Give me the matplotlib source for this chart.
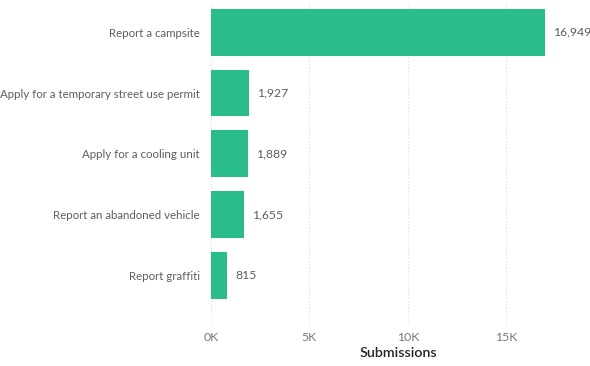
import matplotlib.pyplot as plt

# submissions per request type
categories = ['Report a campsite', 'Apply for a temporary street use permit',
              'Apply for a cooling unit', 'Report an abandoned vehicle', 'Report graffiti']
submissions = [16949, 1927, 1889, 1655, 815]
tick_values = [0, 5000, 10000, 15000]
tick_labels = ['0K', '5K', '10K', '15K']

plt.rcParams['font.family'] = ['Lato', 'DejaVu Sans']

fig = plt.figure(figsize=(5.9, 3.66), dpi=100)
ax = fig.add_axes([211 / 590, 1 - 325 / 366, (585 - 211) / 590, 323 / 366])

y = list(range(len(categories)))
ax.barh(y, submissions, height=0.77, color='#2bbd89')
ax.set_ylim(4.82, -0.5)
ax.set_xlim(0, 19000)

for i, v in enumerate(submissions):
    ax.text(v + 420, i, f'{v:,}', va='center', ha='left', fontsize=8.8, color='#605e5c')

ax.set_yticks(y)
ax.set_yticklabels(categories, fontsize=8.3, color='#605e5c')
ax.set_xticks(tick_values)
ax.set_xticklabels(tick_labels, fontsize=8.8, color='#777777')
ax.tick_params(length=0, axis='both')
ax.tick_params(axis='y', pad=8)
ax.tick_params(axis='x', pad=5)
ax.set_xlabel('Submissions', fontsize=10.3, color='#252423', fontweight='semibold', labelpad=3)

ax.grid(axis='x', color='#dddddd', linestyle=(0, (1, 2)), linewidth=0.8)
ax.set_axisbelow(True)
for s in ax.spines.values():
    s.set_visible(False)

fig.savefig('out.png', dpi=100)
